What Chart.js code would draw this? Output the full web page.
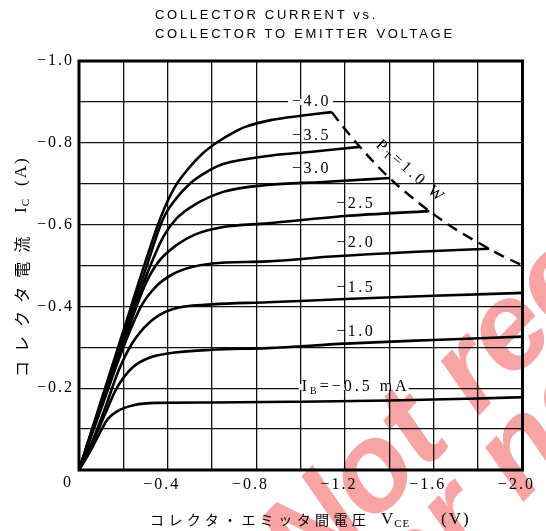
<!DOCTYPE html>
<html>
<head>
<meta charset="utf-8">
<script src="https://cdn.jsdelivr.net/npm/chart.js@4.4.0/dist/chart.umd.min.js"></script>
<style>
  html, body { margin: 0; padding: 0; background: #fff; }
  #wrap { position: relative; width: 546px; height: 531px; overflow: hidden; }
  #wrap canvas { position: absolute; left: 0; top: 0; }
  .title {
    position: absolute; left: 155px; top: 5px;
    font: 13px "Liberation Sans", sans-serif; letter-spacing: 2.7px;
    line-height: 19px; color: #000; white-space: nowrap;
  }
  .jp { font-family: "Noto Sans CJK JP", sans-serif; }
  .lat { font-family: "Liberation Serif", serif; }
  .axt { position: absolute; white-space: nowrap; color: #000; line-height: 20px; }
  .xt { top: 509px; }
  .yt {
    position: absolute; left: 11px; top: 400px; width: 260px; height: 20px;
    transform-origin: 0 0; transform: rotate(-90deg);
  }
  sub { font-size: 11px; vertical-align: -3px; letter-spacing: 1px; }
</style>
</head>
<body>
<div id="wrap">
  <canvas id="icVce" width="546" height="531"></canvas>
  <div class="title">COLLECTOR CURRENT vs.<br>COLLECTOR TO EMITTER VOLTAGE</div>
  <div class="yt">
    <span class="axt jp" style="left:23px;top:0;font-size:16px;letter-spacing:9px">コレクタ電流</span>
    <span class="axt lat" style="left:187px;top:0;font-size:17px;letter-spacing:1px">I<sub>C</sub></span>
    <span class="axt lat" style="left:214px;top:0;font-size:17px;letter-spacing:2px">(A)</span>
  </div>
  <span class="axt xt jp" style="left:150px;font-size:14px;letter-spacing:4.4px">コレクタ・エミッタ間電圧</span>
  <span class="axt xt lat" style="left:381px;font-size:17px;letter-spacing:1px">V<sub>CE</sub></span>
  <span class="axt xt lat" style="left:441px;font-size:17px;letter-spacing:2px">(V)</span>
</div>
<script>
// Base current curves (V in volts, I in amperes)
const ib05V = [0, -0.05, -0.1, -0.13, -0.17, -0.25, -0.35, -0.6, -1.0, -1.4, -1.8, -2.0];
const ib05I = [0, -0.045, -0.097, -0.125, -0.143, -0.159, -0.164, -0.165, -0.167, -0.17, -0.175, -0.178];
const ib10V = [0, -0.06, -0.12, -0.17, -0.24, -0.32, -0.4, -0.6, -0.85, -1.2, -1.6, -2.0];
const ib10I = [0, -0.065, -0.14, -0.2, -0.25, -0.275, -0.285, -0.294, -0.298, -0.309, -0.318, -0.326];
const ib15V = [0, -0.06, -0.12, -0.18, -0.24, -0.32, -0.42, -0.6, -0.85, -1.2, -1.6, -2.0];
const ib15I = [0, -0.07, -0.155, -0.245, -0.31, -0.362, -0.393, -0.405, -0.41, -0.418, -0.426, -0.433];
const ib20V = [0, -0.1, -0.2, -0.28, -0.35, -0.42, -0.5, -0.6, -0.85, -1.14, -1.5, -1.85];
const ib20I = [0, -0.15, -0.3, -0.4, -0.45, -0.478, -0.495, -0.505, -0.51, -0.522, -0.533, -0.541];
const ib25V = [0, -0.1, -0.2, -0.3, -0.36, -0.44, -0.52, -0.65, -0.85, -1.2, -1.58];
const ib25I = [0, -0.155, -0.31, -0.455, -0.51, -0.55, -0.575, -0.594, -0.603, -0.621, -0.633];
const ib30V = [0, -0.1, -0.2, -0.3, -0.38, -0.44, -0.52, -0.65, -0.85, -1.1, -1.4];
const ib30I = [0, -0.16, -0.32, -0.47, -0.57, -0.615, -0.648, -0.68, -0.697, -0.704, -0.714];
const ib35V = [0, -0.1, -0.2, -0.3, -0.38, -0.44, -0.5, -0.58, -0.65, -0.87, -1.05, -1.265];
const ib35I = [0, -0.165, -0.33, -0.49, -0.615, -0.665, -0.7, -0.73, -0.748, -0.769, -0.778, -0.79];
const ib40V = [0, -0.1, -0.2, -0.3, -0.37, -0.43, -0.5, -0.56, -0.62, -0.7, -0.75, -0.87, -1.0, -1.14];
const ib40I = [0, -0.17, -0.34, -0.51, -0.62, -0.69, -0.741, -0.775, -0.8, -0.826, -0.839, -0.856, -0.866, -0.875];

// PT = 1.0 W limit (dashed)
const ptV = [-1.14, -1.2, -1.3, -1.4, -1.5, -1.6, -1.7, -1.8, -1.9, -2.0];
const ptI = [-0.875, -0.833, -0.77, -0.714, -0.667, -0.625, -0.588, -0.556, -0.526, -0.5];

const curveNames = ['−0.5', '−1.0', '−1.5', '−2.0', '−2.5', '−3.0', '−3.5', '−4.0'];

// Tick labels
const xTickValues = [-0.4, -0.8, -1.2, -1.6, -2.0];
const xTickLabels = ['−0.4', '−0.8', '−1.2', '−1.6', '−2.0'];
const yTickValues = [-0.2, -0.4, -0.6, -0.8, -1.0];
const yTickLabels = ['−0.2', '−0.4', '−0.6', '−0.8', '−1.0'];

const SERIF = '"Liberation Serif", "DejaVu Serif", serif';

function pairs(vs, is) {
  return vs.map((v, k) => ({ x: v, y: is[k] }));
}

function pickLabel(values, labels, v) {
  const k = values.findIndex((t) => Math.abs(t - v) < 1e-6);
  return k >= 0 ? labels[k] : '';
}

// where the curve names sit (data coords of the text centre)
const curveTags = [
  { name: 7, x: -1.049, y: -0.9, knock: true },
  { name: 6, x: -1.049, y: -0.817 },
  { name: 5, x: -1.049, y: -0.736 },
  { name: 4, x: -1.248, y: -0.65 },
  { name: 3, x: -1.248, y: -0.555 },
  { name: 2, x: -1.248, y: -0.445 },
  { name: 1, x: -1.248, y: -0.337 },
];

// draw a run of text pieces (with subscripts) starting at x
function drawRun(ctx, pieces, x, y) {
  pieces.forEach((p) => {
    ctx.font = (p.sub ? '10px ' : '16px ') + SERIF;
    ctx.fillText(p.t, x, y + (p.sub ? 4 : 0));
    x += ctx.measureText(p.t).width;
  });
  return x;
}

function runWidth(ctx, pieces) {
  let w = 0;
  pieces.forEach((p) => {
    ctx.font = (p.sub ? '10px ' : '16px ') + SERIF;
    w += ctx.measureText(p.t).width;
  });
  return w;
}

const annotations = {
  id: 'annotations',
  beforeUpdate(chart) { chart.ctx.letterSpacing = '2px'; },
  beforeDraw(chart) { chart.ctx.letterSpacing = '2px'; },
  afterDatasetsDraw(chart) {
    const { ctx, chartArea: a, scales } = chart;
    const sx = scales.x, sy = scales.y;
    ctx.save();

    // frame
    ctx.strokeStyle = '#000';
    ctx.lineWidth = 3;
    ctx.strokeRect(a.left, a.top, a.right - a.left, a.bottom - a.top);

    ctx.fillStyle = '#000';
    ctx.textBaseline = 'middle';
    ctx.textAlign = 'left';

    // curve names
    ctx.letterSpacing = '2.5px';
    curveTags.forEach((t) => {
      const pieces = [{ t: curveNames[t.name] }];
      const w = runWidth(ctx, pieces);
      const cx = sx.getPixelForValue(t.x), cy = sy.getPixelForValue(t.y);
      if (t.knock) {
        ctx.fillStyle = '#fff';
        ctx.fillRect(cx - w / 2 - 4, cy - 3, w + 6, 6);
        ctx.fillStyle = '#000';
      }
      drawRun(ctx, pieces, cx - w / 2, cy);
    });

    // IB = -0.5 mA
    ctx.letterSpacing = '3px';
    const ibPieces = [{ t: 'I' }, { t: 'B', sub: true }, { t: '=' }, { t: curveNames[0] }, { t: ' mA' }];
    const ibX = sx.getPixelForValue(-1.004), ibY = sy.getPixelForValue(-0.203);
    const ibW = runWidth(ctx, ibPieces);
    ctx.fillStyle = '#fff';
    ctx.fillRect(ibX - 3, ibY - 3, ibW + 2, 6);
    ctx.fillStyle = '#000';
    drawRun(ctx, ibPieces, ibX, ibY);

    // PT = 1.0 W, along the dashed limit
    const ptPieces = [{ t: 'P' }, { t: 'T', sub: true }, { t: '=1.0 W' }];
    const pw = runWidth(ctx, ptPieces);
    ctx.save();
    ctx.translate(sx.getPixelForValue(-1.496), sy.getPixelForValue(-0.729));
    ctx.rotate(41.5 * Math.PI / 180);
    drawRun(ctx, ptPieces, -pw / 2, 0);
    ctx.restore();

    // shared origin label
    ctx.letterSpacing = '2px';
    ctx.font = '16px ' + SERIF;
    ctx.fillText('0', a.left - 16, a.bottom + 13);

    // watermark
    ctx.globalCompositeOperation = 'multiply';
    ctx.fillStyle = '#f8a4a4';
    ctx.letterSpacing = '0px';
    ctx.font = 'italic bold 124px "Liberation Sans", sans-serif';
    ctx.textBaseline = 'alphabetic';
    ctx.translate(310, 590);
    ctx.rotate(-45.9 * Math.PI / 180);
    ctx.fillText('Not recommended', 0, 0);
    ctx.fillText('for new design', 10, 92);
    ctx.restore();
  },
};

const datasets = [
  [ib05V, ib05I], [ib10V, ib10I], [ib15V, ib15I], [ib20V, ib20I],
  [ib25V, ib25I], [ib30V, ib30I], [ib35V, ib35I], [ib40V, ib40I],
].map(([vs, is], k) => ({
  label: 'IB ' + curveNames[k] + ' mA',
  data: pairs(vs, is),
  borderColor: '#000',
  borderWidth: 2.6,
  pointRadius: 0,
  cubicInterpolationMode: 'monotone',
  fill: false,
}));

datasets.push({
  label: 'PT = 1.0 W',
  data: pairs(ptV, ptI),
  borderColor: '#000',
  borderWidth: 2.4,
  borderDash: [11, 7],
  pointRadius: 0,
  cubicInterpolationMode: 'monotone',
  fill: false,
});

new Chart(document.getElementById('icVce'), {
  type: 'line',
  data: { datasets },
  options: {
    responsive: false,
    animation: false,
    events: [],
    layout: { padding: { top: 61, right: 15, left: 0, bottom: 0 } },
    plugins: { legend: { display: false }, tooltip: { enabled: false } },
    scales: {
      x: {
        type: 'linear',
        min: -2.0,
        max: 0,
        reverse: true,
        afterFit: (s) => { s.height = 61; },
        border: { display: false },
        grid: { color: '#111', lineWidth: 1.3, drawTicks: false },
        ticks: {
          stepSize: 0.2,
          padding: 5,
          labelOffset: -6,
          color: '#000',
          font: { family: SERIF, size: 16 },
          maxRotation: 0,
          autoSkip: false,
          callback: (v) => pickLabel(xTickValues, xTickLabels, v),
        },
      },
      y: {
        type: 'linear',
        min: -1.0,
        max: 0,
        reverse: true,
        afterFit: (s) => { s.width = 79; },
        border: { display: false },
        grid: { color: '#111', lineWidth: 1.3, drawTicks: false },
        ticks: {
          stepSize: 0.1,
          padding: 5,
          color: '#000',
          font: { family: SERIF, size: 16 },
          autoSkip: false,
          callback: (v) => pickLabel(yTickValues, yTickLabels, v),
        },
      },
    },
  },
  plugins: [annotations],
});
</script>
</body>
</html>
